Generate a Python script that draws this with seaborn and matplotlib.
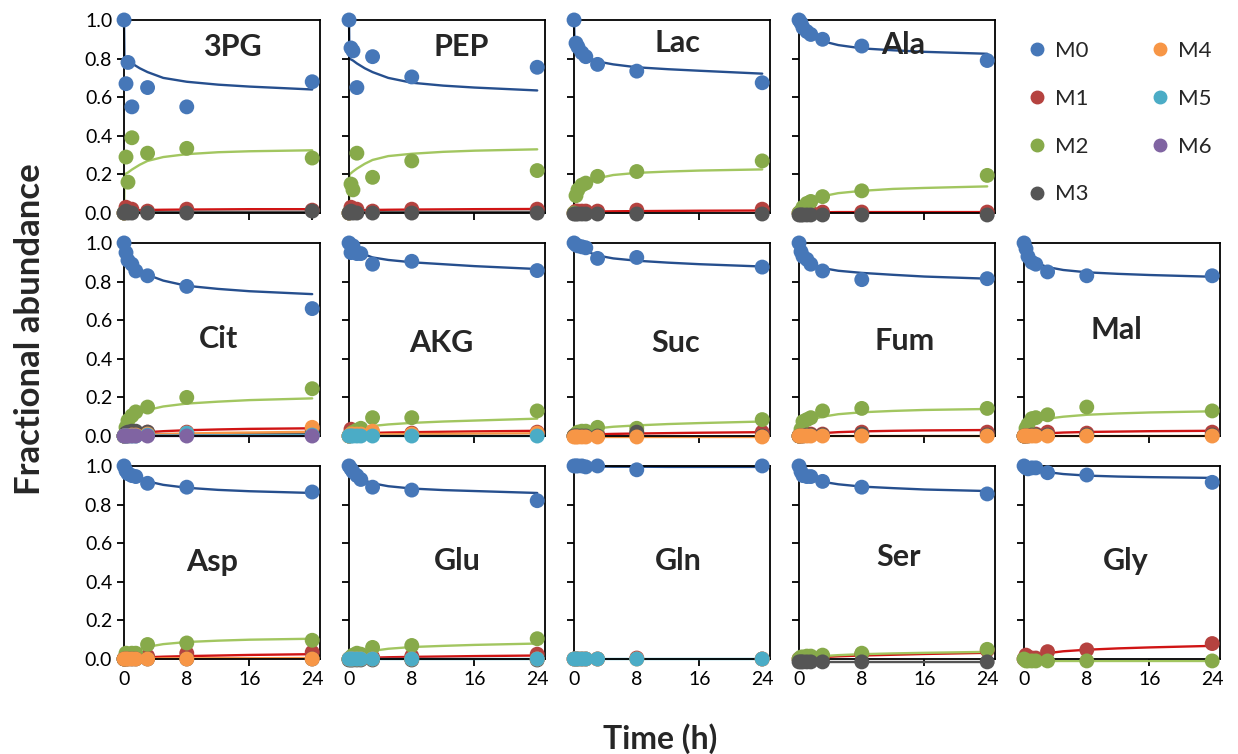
import numpy as np
import pandas as pd
import matplotlib
matplotlib.use("Agg")
import matplotlib.pyplot as plt
from matplotlib.lines import Line2D
from matplotlib.ticker import FormatStrFormatter
import seaborn as sns

sns.set_style("ticks")
plt.rcParams["font.family"] = ["Lato", "DejaVu Sans"]

nan = np.nan

### 측정 시간(h) / 피팅 곡선 시간(h)
time_pts = [0, 0.25, 0.5, 1, 1.5, 3, 8, 24]
time_fit = [0, 0.05, 0.5, 1, 2, 3, 5, 8, 12, 16, 24]

isotopologues = ["M0", "M1", "M2", "M3", "M4", "M5", "M6"]
metabolites = ["3PG", "PEP", "Lac", "Ala", "Cit", "AKG", "Suc",
               "Fum", "Mal", "Asp", "Glu", "Gln", "Ser", "Gly"]

### 측정값 (dots) / 피팅값 (lines)
pg3_dots = {"M0": [1.0, 0.67, 0.78, 0.55, nan, 0.65, 0.55, 0.68],
            "M1": [0.0, 0.03, 0.02, 0.02, nan, 0.01, 0.02, 0.015],
            "M2": [0.0, 0.29, 0.16, 0.39, nan, 0.31, 0.335, 0.285],
            "M3": [0.0, 0.01, 0.0, 0.0, nan, 0.0, 0.0, 0.01]}
pg3_fit = {"M0": [1.0, 0.80, 0.79, 0.775, 0.75, 0.73, 0.70, 0.68, 0.665, 0.655, 0.64],
           "M1": [0.0, 0.012, 0.013, 0.014, 0.015, 0.016, 0.017, 0.018, 0.019, 0.02, 0.02],
           "M2": [0.0, 0.20, 0.21, 0.225, 0.25, 0.27, 0.29, 0.305, 0.315, 0.32, 0.325],
           "M3": [0.0, 0.004, 0.004, 0.005, 0.005, 0.005, 0.005, 0.006, 0.006, 0.006, 0.006]}

pep_dots = {"M0": [1.0, 0.855, 0.84, 0.65, nan, 0.81, 0.705, 0.755],
            "M1": [0.0, 0.03, 0.02, 0.02, nan, 0.01, 0.02, 0.02],
            "M2": [0.0, 0.15, 0.12, 0.31, nan, 0.185, 0.27, 0.22],
            "M3": [0.0, 0.01, 0.0, 0.0, nan, 0.0, 0.0, 0.0]}
pep_fit = {"M0": [1.0, 0.80, 0.79, 0.775, 0.75, 0.73, 0.70, 0.675, 0.66, 0.65, 0.635],
           "M1": [0.0, 0.012, 0.013, 0.014, 0.015, 0.016, 0.017, 0.018, 0.019, 0.02, 0.021],
           "M2": [0.0, 0.20, 0.215, 0.23, 0.255, 0.275, 0.295, 0.307, 0.317, 0.323, 0.33],
           "M3": [0.0, 0.004, 0.004, 0.005, 0.005, 0.005, 0.005, 0.006, 0.006, 0.006, 0.006]}

lac_dots = {"M0": [1.0, 0.88, 0.86, 0.83, 0.81, 0.77, 0.735, 0.675],
            "M1": [0.0, 0.01, 0.01, 0.01, 0.01, 0.01, 0.015, 0.02],
            "M2": [0.0, 0.09, 0.12, 0.145, 0.155, 0.19, 0.215, 0.27],
            "M3": [-0.005, -0.005, -0.005, -0.005, -0.005, -0.005, -0.005, -0.005]}
lac_fit = {"M0": [1.0, 0.90, 0.86, 0.835, 0.80, 0.785, 0.77, 0.755, 0.745, 0.737, 0.722],
           "M1": [0.0, 0.003, 0.005, 0.006, 0.007, 0.008, 0.009, 0.01, 0.011, 0.012, 0.013],
           "M2": [0.0, 0.08, 0.115, 0.14, 0.165, 0.18, 0.197, 0.208, 0.215, 0.22, 0.226]}

ala_dots = {"M0": [1.0, 0.985, 0.96, 0.94, 0.925, 0.90, 0.865, 0.79],
            "M1": [0.0, 0.0, 0.0, 0.005, 0.005, 0.005, 0.005, 0.005],
            "M2": [0.0, 0.01, 0.03, 0.05, 0.06, 0.085, 0.115, 0.195],
            "M3": [-0.01, -0.01, -0.01, -0.01, -0.01, -0.01, -0.01, -0.01]}
ala_fit = {"M0": [1.0, 0.99, 0.96, 0.94, 0.91, 0.89, 0.87, 0.853, 0.843, 0.835, 0.825],
           "M1": [0.0, 0.001, 0.002, 0.003, 0.004, 0.004, 0.005, 0.005, 0.005, 0.005, 0.005],
           "M2": [0.0, 0.005, 0.03, 0.05, 0.072, 0.087, 0.103, 0.115, 0.125, 0.13, 0.138]}

cit_dots = {"M0": [1.0, 0.95, 0.91, 0.89, 0.855, 0.83, 0.775, 0.66],
            "M1": [0.0, 0.01, 0.01, 0.015, 0.015, 0.02, 0.02, 0.035],
            "M2": [0.0, 0.045, 0.08, 0.105, 0.125, 0.15, 0.20, 0.245],
            "M3": [0.0, 0.015, 0.02, 0.025, 0.025, 0.02, 0.01, 0.01],
            "M4": [0.0, 0.0, 0.0, 0.005, 0.005, 0.01, 0.015, 0.045],
            "M5": [0.0, 0.0, 0.0, 0.0, 0.0, 0.005, 0.015, 0.005],
            "M6": [0.0, 0.0, 0.0, 0.0, 0.0, 0.0, 0.0, 0.0]}
cit_fit = {"M0": [1.0, 0.97, 0.925, 0.895, 0.86, 0.835, 0.805, 0.778, 0.762, 0.75, 0.735],
           "M1": [0.0, 0.004, 0.008, 0.011, 0.016, 0.02, 0.025, 0.03, 0.034, 0.037, 0.04],
           "M2": [0.0, 0.02, 0.07, 0.095, 0.12, 0.135, 0.153, 0.168, 0.178, 0.186, 0.195],
           "M3": [0.0, 0.005, 0.008, 0.01, 0.01, 0.01, 0.01, 0.01, 0.01, 0.01, 0.01],
           "M4": [0.0, 0.0, 0.002, 0.003, 0.005, 0.007, 0.01, 0.013, 0.016, 0.018, 0.022],
           "M5": [0.0, 0.0, 0.001, 0.001, 0.002, 0.002, 0.003, 0.003, 0.004, 0.004, 0.005],
           "M6": [0.0, 0.0, 0.0, 0.0, 0.0, 0.0, 0.0, 0.0, 0.0, 0.0, 0.0]}

akg_dots = {"M0": [1.0, 0.95, 0.985, 0.945, 0.945, 0.89, 0.905, 0.857],
            "M1": [0.0, 0.035, 0.02, 0.015, 0.01, 0.01, 0.015, 0.02],
            "M2": [0.0, 0.01, 0.02, 0.03, 0.04, 0.095, 0.095, 0.13],
            "M4": [0.0, 0.01, 0.01, 0.01, 0.01, 0.025, 0.01, 0.015],
            "M5": [0.0, 0.0, 0.0, 0.0, 0.0, 0.0, 0.0, 0.0]}
akg_fit = {"M0": [1.0, 0.99, 0.97, 0.96, 0.94, 0.925, 0.912, 0.90, 0.89, 0.88, 0.865],
           "M1": [0.0, 0.01, 0.012, 0.013, 0.015, 0.016, 0.018, 0.02, 0.022, 0.024, 0.027],
           "M2": [0.0, 0.005, 0.02, 0.03, 0.043, 0.052, 0.06, 0.068, 0.075, 0.08, 0.09],
           "M4": [0.0, 0.003, 0.005, 0.006, 0.007, 0.008, 0.009, 0.01, 0.011, 0.012, 0.014],
           "M5": [0.0, 0.0, 0.0, 0.0, 0.0, 0.0, 0.0, 0.0, 0.0, 0.0, 0.0]}

suc_dots = {"M0": [1.0, 0.99, 0.985, 0.98, 0.975, 0.92, 0.925, 0.875],
            "M1": [0.0, 0.005, 0.01, 0.01, 0.01, 0.01, 0.015, 0.02],
            "M2": [0.0, 0.01, 0.02, 0.025, 0.025, 0.045, 0.04, 0.085],
            "M3": [0.0, 0.0, 0.0, 0.0, 0.0, 0.0, 0.02, 0.0],
            "M4": [-0.005, -0.005, -0.005, -0.005, -0.005, -0.005, -0.005, -0.005]}
suc_fit = {"M0": [1.0, 0.995, 0.98, 0.97, 0.95, 0.935, 0.92, 0.908, 0.898, 0.89, 0.878],
           "M1": [0.0, 0.002, 0.004, 0.005, 0.007, 0.009, 0.011, 0.013, 0.015, 0.017, 0.02],
           "M2": [0.0, 0.005, 0.015, 0.022, 0.032, 0.04, 0.048, 0.055, 0.062, 0.067, 0.075],
           "M4": [-0.005, -0.005, -0.005, -0.005, -0.005, -0.005, -0.005, -0.005, -0.005, -0.005, -0.005]}

fum_dots = {"M0": [1.0, 0.955, 0.93, 0.915, 0.89, 0.855, 0.81, 0.815],
            "M1": [0.0, 0.005, 0.01, 0.01, 0.01, 0.01, 0.02, 0.02],
            "M2": [0.0, 0.035, 0.075, 0.085, 0.095, 0.13, 0.143, 0.143],
            "M3": [0.0, 0.0, 0.0, 0.005, 0.005, 0.005, 0.01, 0.005],
            "M4": [0.0, 0.0, 0.0, 0.0, 0.0, 0.0, 0.0, 0.0]}
fum_fit = {"M0": [1.0, 0.97, 0.93, 0.91, 0.885, 0.87, 0.856, 0.845, 0.835, 0.826, 0.815],
           "M1": [0.0, 0.003, 0.006, 0.008, 0.012, 0.015, 0.02, 0.024, 0.027, 0.029, 0.031],
           "M2": [0.0, 0.02, 0.06, 0.075, 0.09, 0.10, 0.113, 0.123, 0.13, 0.135, 0.14],
           "M4": [0.0, 0.0, 0.0, 0.0, 0.0, 0.0, 0.0, 0.0, 0.0, 0.0, 0.0]}

mal_dots = {"M0": [1.0, 0.97, 0.93, 0.90, 0.89, 0.85, 0.83, 0.83],
            "M1": [0.0, 0.005, 0.01, 0.01, 0.01, 0.02, 0.015, 0.02],
            "M2": [0.0, 0.04, 0.06, 0.09, 0.095, 0.11, 0.15, 0.13],
            "M3": [0.0, 0.0, 0.0, 0.005, 0.005, 0.005, 0.005, 0.005],
            "M4": [0.0, 0.0, 0.0, 0.0, 0.0, 0.0, 0.0, 0.0]}
mal_fit = {"M0": [1.0, 0.98, 0.94, 0.915, 0.89, 0.875, 0.86, 0.848, 0.84, 0.834, 0.825],
           "M1": [0.0, 0.003, 0.006, 0.008, 0.011, 0.014, 0.018, 0.021, 0.023, 0.025, 0.027],
           "M2": [0.0, 0.015, 0.05, 0.065, 0.08, 0.09, 0.10, 0.11, 0.117, 0.122, 0.128],
           "M4": [0.0, 0.0, 0.0, 0.0, 0.0, 0.0, 0.0, 0.0, 0.0, 0.0, 0.0]}

asp_dots = {"M0": [1.0, 0.975, 0.96, 0.95, 0.945, 0.91, 0.89, 0.865],
            "M1": [0.0, 0.005, 0.005, 0.01, 0.01, 0.015, 0.03, 0.035],
            "M2": [0.0, 0.03, 0.025, 0.03, 0.03, 0.075, 0.083, 0.097],
            "M3": [0.0, 0.0, 0.0, 0.0, 0.0, 0.0, 0.0, 0.0],
            "M4": [0.0, 0.0, 0.0, 0.0, 0.0, 0.0, 0.0, 0.0]}
asp_fit = {"M0": [1.0, 0.99, 0.97, 0.955, 0.935, 0.92, 0.902, 0.887, 0.876, 0.869, 0.86],
           "M1": [0.0, 0.002, 0.004, 0.005, 0.007, 0.009, 0.012, 0.015, 0.018, 0.021, 0.025],
           "M2": [0.0, 0.01, 0.025, 0.035, 0.05, 0.063, 0.077, 0.088, 0.095, 0.10, 0.105],
           "M4": [0.0, 0.0, 0.001, 0.001, 0.002, 0.002, 0.003, 0.003, 0.004, 0.004, 0.005]}

glu_dots = {"M0": [1.0, 0.985, 0.97, 0.95, 0.93, 0.89, 0.875, 0.82],
            "M1": [0.0, 0.005, 0.005, 0.01, 0.01, 0.01, 0.015, 0.025],
            "M2": [0.0, 0.01, 0.02, 0.03, 0.025, 0.06, 0.07, 0.105],
            "M3": [-0.005, -0.005, -0.005, -0.005, -0.005, -0.005, -0.005, -0.005],
            "M4": [0.0, 0.0, 0.0, 0.0, 0.0, 0.0, 0.0, 0.0],
            "M5": [0.0, 0.0, 0.0, 0.0, 0.0, 0.0, 0.0, 0.0]}
glu_fit = {"M0": [1.0, 0.99, 0.965, 0.95, 0.925, 0.91, 0.895, 0.883, 0.875, 0.87, 0.86],
           "M1": [0.0, 0.002, 0.003, 0.004, 0.006, 0.007, 0.009, 0.011, 0.013, 0.015, 0.018],
           "M2": [0.0, 0.005, 0.015, 0.022, 0.033, 0.042, 0.053, 0.062, 0.068, 0.073, 0.08],
           "M5": [0.0, 0.0, 0.0, 0.0, 0.0, 0.0, 0.0, 0.0, 0.0, 0.0, 0.0]}

gln_dots = {"M0": [1.0, 1.0, 1.0, 1.0, 0.995, 1.0, 0.98, 1.0],
            "M1": [0.0, 0.0, 0.0, 0.0, 0.0, 0.0, 0.005, 0.0],
            "M4": [0.0, 0.0, 0.0, 0.0, 0.0, 0.0, 0.0, 0.0],
            "M5": [0.0, 0.0, 0.0, 0.0, 0.0, 0.0, 0.0, 0.0]}
gln_fit = {"M0": [1.0, 0.999, 0.998, 0.998, 0.997, 0.997, 0.996, 0.996, 0.995, 0.995, 0.995],
           "M5": [0.0, 0.0, 0.0, 0.0, 0.0, 0.0, 0.0, 0.0, 0.0, 0.0, 0.0]}

ser_dots = {"M0": [1.0, 0.97, 0.95, 0.945, 0.945, 0.92, 0.89, 0.855],
            "M1": [0.0, 0.005, 0.005, 0.01, 0.01, 0.015, 0.025, 0.045],
            "M2": [0.0, 0.01, 0.01, 0.015, 0.015, 0.02, 0.03, 0.05],
            "M3": [-0.015, -0.015, -0.015, -0.015, -0.015, -0.015, -0.015, -0.015]}
ser_fit = {"M0": [1.0, 0.99, 0.965, 0.95, 0.93, 0.918, 0.905, 0.893, 0.885, 0.878, 0.87],
           "M1": [0.0, 0.002, 0.004, 0.005, 0.008, 0.01, 0.014, 0.018, 0.022, 0.026, 0.032],
           "M2": [0.0, 0.003, 0.006, 0.008, 0.012, 0.015, 0.02, 0.025, 0.029, 0.032, 0.037],
           "M3": [-0.015, -0.015, -0.015, -0.015, -0.015, -0.015, -0.015, -0.015, -0.015, -0.015, -0.015]}

gly_dots = {"M0": [1.0, 0.99, 0.985, 0.99, 0.99, 0.965, 0.953, 0.915],
            "M1": [0.0, 0.02, 0.01, 0.005, 0.005, 0.038, 0.047, 0.08],
            "M2": [0.0, -0.01, -0.01, -0.01, -0.01, -0.01, -0.01, -0.01]}
gly_fit = {"M0": [1.0, 0.995, 0.99, 0.985, 0.975, 0.968, 0.958, 0.95, 0.945, 0.942, 0.938],
           "M1": [0.0, 0.003, 0.01, 0.015, 0.022, 0.03, 0.04, 0.048, 0.055, 0.06, 0.068],
           "M2": [-0.01, -0.01, -0.01, -0.01, -0.01, -0.01, -0.01, -0.01, -0.01, -0.01, -0.01]}

all_dots = [pg3_dots, pep_dots, lac_dots, ala_dots, cit_dots, akg_dots, suc_dots,
            fum_dots, mal_dots, asp_dots, glu_dots, gln_dots, ser_dots, gly_dots]
all_fit = [pg3_fit, pep_fit, lac_fit, ala_fit, cit_fit, akg_fit, suc_fit,
           fum_fit, mal_fit, asp_fit, glu_fit, gln_fit, ser_fit, gly_fit]

### 색상
dot_colors = {"M0": "#4677B8", "M1": "#B5423F", "M2": "#87AA4A", "M3": "#555555",
              "M4": "#F79646", "M5": "#4BACC6", "M6": "#8064A2"}
line_colors = {"M0": "#264F8E", "M1": "#D01414", "M2": "#A2C660", "M3": "#555555",
               "M4": "#F79646", "M5": "#4BACC6", "M6": "#8064A2"}

### long format 테이블 만들기
rows_d, rows_f = [], []
for m, dd, ff in zip(metabolites, all_dots, all_fit):
    for iso in isotopologues:
        if iso in dd:
            for t, v in zip(time_pts, dd[iso]):
                rows_d.append((m, iso, t, v))
        if iso in ff:
            for t, v in zip(time_fit, ff[iso]):
                rows_f.append((m, iso, t, v))
df_dots = pd.DataFrame(rows_d, columns=["met", "iso", "t", "v"]).dropna()
df_fit = pd.DataFrame(rows_f, columns=["met", "iso", "t", "v"])

### 패널 위치 (row, col) 와 이름 위치
cells = [(0, 0), (0, 1), (0, 2), (0, 3),
         (1, 0), (1, 1), (1, 2), (1, 3), (1, 4),
         (2, 0), (2, 1), (2, 2), (2, 3), (2, 4)]
name_xy = [(0.55, 0.86), (0.57, 0.86), (0.53, 0.88), (0.53, 0.87),
           (0.48, 0.50), (0.47, 0.48), (0.52, 0.48), (0.54, 0.49), (0.47, 0.55),
           (0.45, 0.50), (0.55, 0.51), (0.53, 0.51), (0.51, 0.53), (0.52, 0.51)]

fig, axes = plt.subplots(3, 5, figsize=(12.38, 7.54), dpi=100)
fig.subplots_adjust(left=0.1002, right=0.9855, top=0.9735, bottom=0.126,
                    wspace=0.148, hspace=0.155)
axes[0, 4].axis("off")

for m, (r, c), (tx, ty) in zip(metabolites, cells, name_xy):
    ax = axes[r, c]
    sub_f = df_fit[df_fit.met == m]
    sub_d = df_dots[df_dots.met == m]
    sns.lineplot(data=sub_f, x="t", y="v", hue="iso", palette=line_colors,
                 legend=False, ax=ax, lw=1.7, errorbar=None, clip_on=False)
    sns.scatterplot(data=sub_d, x="t", y="v", hue="iso", palette=dot_colors,
                    legend=False, ax=ax, s=115, linewidth=0, alpha=1, clip_on=False, zorder=3)
    ax.set_xlim(0, 25)
    ax.set_ylim(0, 1)
    ax.set_xticks([0, 8, 16, 24])
    ax.set_yticks([0, 0.2, 0.4, 0.6, 0.8, 1.0])
    ax.yaxis.set_major_formatter(FormatStrFormatter("%.1f"))
    ax.set_xlabel("")
    ax.set_ylabel("")
    for sp in ax.spines.values():
        sp.set_visible(True)
        sp.set_color("black")
        sp.set_linewidth(1.3)
    ax.tick_params(direction="out", length=5, width=1.3, labelsize=14,
                   labelleft=(c == 0), labelbottom=(r == 2), colors="black")
    ax.text(tx, ty, m, transform=ax.transAxes, ha="center", va="center",
            fontsize=22, fontweight="bold")

### 범례
handles = [Line2D([], [], marker="o", ls="", color=dot_colors[k], markersize=9)
           for k in isotopologues]
fig.legend(handles, isotopologues, loc="upper left", bbox_to_anchor=(0.811, 0.972),
           ncol=2, frameon=False, fontsize=16, labelspacing=1.25, columnspacing=2.6,
           handletextpad=0.2, handlelength=1.2)

fig.text(0.024, 0.563, "Fractional abundance", rotation=90, ha="center", va="center",
         fontsize=25, fontweight="bold")
fig.text(0.533, 0.021, "Time (h)", ha="center", va="center",
         fontsize=23, fontweight="bold")

fig.savefig("out.png", dpi=100)
